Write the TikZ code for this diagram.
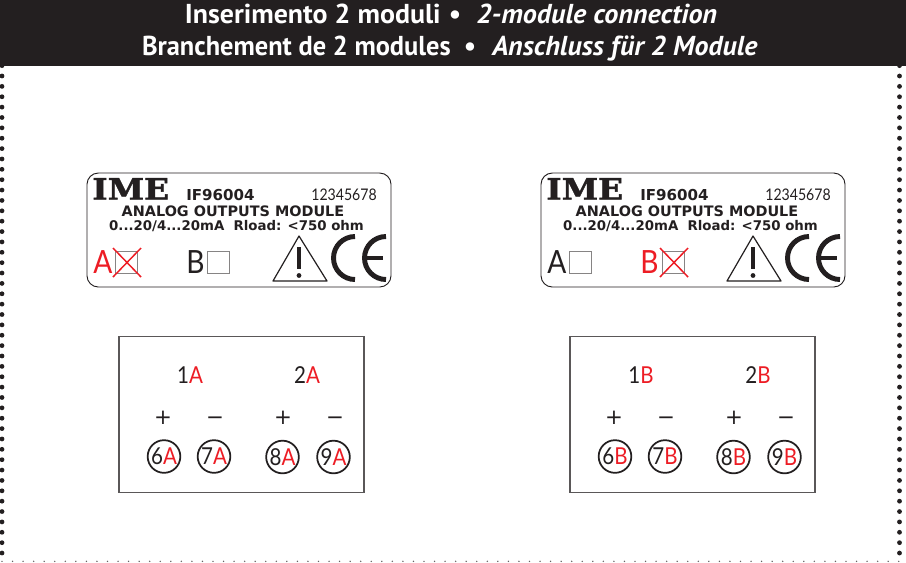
\documentclass[tikz,border=0pt]{standalone}
\usepackage{fontspec}
\setmainfont{Open Sans}
\newfontfamily\headfont{PT Sans}
\newfontfamily\labfont{DejaVu Sans}
\newfontfamily\symfont{DejaVu Sans}
\newfontfamily\imefont[BoldFeatures={FakeBold=1.6}]{DejaVu Serif}
\newfontfamily\numfont{Lato}
\newfontfamily\numnarrow[FakeStretch=0.88]{Lato}
\definecolor{ink}{HTML}{231F20}
\definecolor{redm}{HTML}{ED1C24}
\tikzset{
  hd/.style={text=white,font=\headfont\fontsize{20.5}{22}\selectfont\bfseries,inner sep=0pt},
  plate/.style={draw=ink,line width=0.7pt,rounded corners=8.5pt,inner sep=0pt},
  termbox/.style={draw=ink!75,line width=0.8pt,inner sep=0pt},
  term/.style={circle,draw=ink,line width=1.3pt,minimum size=24.5pt,inner sep=0pt,font=\numnarrow\fontsize{17.5}{17}\selectfont,text=ink},
  tick/.style={font=\symfont\fontsize{16}{16}\selectfont,text=ink,inner sep=0pt,anchor=base},
  lab/.style={font=\labfont\bfseries\fontsize{10.8}{11}\selectfont,text=ink,inner sep=0pt},
  big/.style={font=\numnarrow\fontsize{24}{24}\selectfont,inner sep=0pt,anchor=base west},
  mid/.style={font=\numnarrow\fontsize{17.5}{17}\selectfont,text=ink,inner sep=0pt},
  chk/.style={draw=ink!55,line width=0.6pt,inner sep=0pt,minimum size=16.5pt},
  crossm/.style={draw=redm,line width=1.1pt},
  ce/.style={draw=ink,line width=3.7pt},
  dotm/.style={circle,fill=ink,inner sep=0pt,minimum size=3.6pt},
  dotb/.style={circle,fill=ink!70,inner sep=0pt,minimum size=1.2pt}
}
\newcommand{\plateat}[2]{%
\begin{scope}[shift={(#2,0)}]
  \node[plate,minimum width=228pt,minimum height=85.5pt] (#1p) at (239,230) {};
  \node[anchor=base west,inner sep=0pt,font=\imefont\bfseries\fontsize{22}{22}\selectfont,text=ink,xscale=1.12] (#1i) at (92,199.5) {IME};
  \node[anchor=base west,lab,font=\labfont\bfseries\fontsize{11.3}{11}\selectfont] (#1m) at (186,200) {IF96004};
  \node[anchor=base east,inner sep=0pt,font=\numnarrow\fontsize{12}{12}\selectfont,text=ink] (#1s) at (377,200) {12345678};
  \node[anchor=base,lab] (#1t) at (233,216) {ANALOG OUTPUTS MODULE};
  \node[anchor=base,lab,font=\labfont\bfseries\fontsize{10}{11}\selectfont] (#1u) at (236.5,230.5) {0...20/4...20mA\ \ Rload: <750 ohm};
  \draw[ink,line width=0.9pt,line join=round] (299,236) -- (327,281) -- (273,281) -- cycle;
  \draw[ink,line width=2.8pt] (299,247) -- (299,269);
  \fill[ink] (299,275.5) circle (1.8pt);
  \draw[ce] (355,279.5) arc[start angle=90,end angle=270,radius=21.5];
  \draw[ce] (386,279.5) arc[start angle=90,end angle=270,radius=21.5];
  \draw[ink,line width=2.8pt] (365,258) -- (383,258);
\end{scope}}
\newcommand{\termblock}[3]{%
\begin{scope}[shift={(#2,0)}]
  \node[termbox,minimum width=183.75pt,minimum height=117.5pt] (#1b) at (241.5,414.5) {};
  \node[mid] (#1o) at (190,375) {1\textcolor{redm}{#3}};
  \node[mid] (#1w) at (307,375) {2\textcolor{redm}{#3}};
  \node[tick] (#1a) at (163,424) {+};
  \node[tick] (#1c) at (215,424) {−};
  \node[tick] (#1d) at (283,424) {+};
  \node[tick] (#1e) at (335,424) {−};
  \node[term] (#1f) at (164,456.5) {6\textcolor{redm}{#3}};
  \node[term] (#1g) at (214,456.5) {7\textcolor{redm}{#3}};
  \node[term] (#1h) at (282.5,457) {8\textcolor{redm}{#3}};
  \node[term] (#1j) at (333.5,457) {9\textcolor{redm}{#3}};
\end{scope}}
\begin{document}
\begin{tikzpicture}[x=0.75pt,y=-0.75pt]
\useasboundingbox (0,0) rectangle (906,562);
\fill[white] (0,0) rectangle (906,562);
\foreach \i in {-1,...,46} {
  \node[dotm] at (2,{76+10.37*\i}) {};
  \node[dotm] at (899.5,{76+10.37*\i}) {};
}
\foreach \i in {0,...,85} {
  \node[dotb] at ({2+10.55*\i},561.3) {};
}
\fill[ink] (0,0) rectangle (906,66);
\node[hd,anchor=base east,xscale=1.02] (h1a) at (441,23) {Inserimento 2 moduli};
\node[hd,anchor=base] (h1b) at (455,23) {•};
\node[hd,anchor=base west,xscale=1.03] (h1c) at (476,23) {\textit{2-module connection}};
\node[hd,anchor=base east,xscale=0.966] (h2a) at (451,55) {Branchement de 2 modules};
\node[hd,anchor=base] (h2b) at (470,55) {•};
\node[hd,anchor=base west,xscale=1.02] (h2c) at (492,55) {\textit{Anschluss für 2 Module}};
\plateat{L}{0}
\plateat{R}{454}
\node[big,text=redm] (LA) at (93,273) {A};
\node[chk] (LAb) at (126,262) {};
\draw[crossm] (113,248) -- (141,277);
\draw[crossm] (141,248) -- (113,277);
\node[big,text=ink] (LB) at (186,273) {B};
\node[chk] (LBb) at (218.5,262) {};
\node[big,text=ink] (RA) at (547,273) {A};
\node[chk] (RAb) at (580,262) {};
\node[big,text=redm] (RB) at (640,273) {B};
\node[chk] (RBb) at (673,262) {};
\draw[crossm] (660,248) -- (688,277);
\draw[crossm] (688,248) -- (660,277);
\termblock{P}{0}{A}
\termblock{Q}{451}{B}
\end{tikzpicture}
\end{document}
